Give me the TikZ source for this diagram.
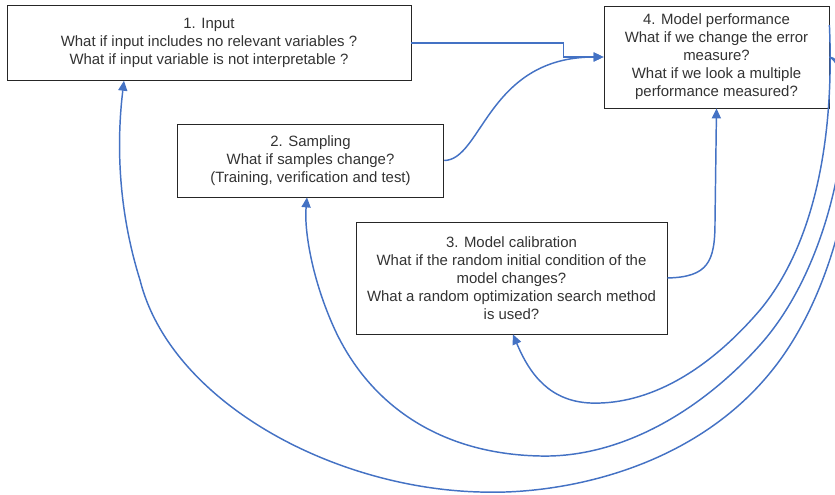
\documentclass[tikz,border=0pt]{standalone}
\usepackage{fontspec}
\setmainfont{Liberation Sans}
\usetikzlibrary{arrows.meta}
\definecolor{linkblue}{HTML}{4472C4}
\definecolor{txtgray}{HTML}{333333}
\begin{document}
\begin{tikzpicture}[x=0.75pt,y=-0.75pt,
  stage/.style={draw=black!85, line width=0.6pt, fill=white, inner sep=0pt,
    align=center, text=txtgray, font=\fontsize{11.2}{13.5}\selectfont},
  link/.style={draw=linkblue, line width=1.1pt,
    -{Triangle[length=7.5pt,width=6.8pt]}}]
\clip (0,0) rectangle (835,495);
\useasboundingbox (0,0) rectangle (835,495);

% stages of the analysis
\node[stage, minimum width=303pt, minimum height=56pt] (b1) at (209,43)
  {1. Input\\What if input includes no relevant variables ?\\What if input variable is not interpretable ?};
\node[stage, minimum width=200pt, minimum height=54.75pt] (b2) at (310.5,160.5)
  {2. Sampling\\What if samples change?\\(Training, verification and test)};
\node[stage, minimum width=233.25pt, minimum height=84pt] (b3) at (511.5,278)
  {3. Model calibration\\What if the random initial condition of the\\model changes?\\What a random optimization search method\\is used?};
\node[stage, minimum width=168.75pt, minimum height=76.5pt] (b4) at (716.5,57)
  {4. Model performance\\What if we change the error\\measure?\\What if we look a multiple\\performance measured?};

% forward links into the performance stage
\draw[link] (b1.east) -- ++(152,0) |- (b4.west);
\draw[link] (b2.east) .. controls (482,160) and (488,57) .. (b4.west);
\draw[link] (b3.east) .. controls (708,277) and (715,262) .. (715,222) -- (b4.south);

% feedback loops from the performance stage
\coordinate (fa) at ([yshift=24pt]b4.east);
\draw[link] (fa) .. controls (835,150) and (810,250) .. (760,310)
  .. controls (700,380) and (640,405) .. (590,403)
  .. controls (550,401) and (530,375) .. (b3.south -| 513,0);
\draw[link] (b4.east) .. controls (860,70) and (845,250) .. (760,345)
  .. controls (700,412) and (620,458) .. (540,456)
  .. controls (440,454) and (370,405) .. (335,330)
  .. controls (312,280) and (304,230) .. (b2.south -| 307,0);
\draw[link] (b4.east) .. controls (870,65) and (860,250) .. (780,360)
  .. controls (700,470) and (560,495) .. (480,492)
  .. controls (330,488) and (170,400) .. (140,280)
  .. controls (115,200) and (118,130) .. (b1.south -| 124,0);
\end{tikzpicture}
\end{document}
